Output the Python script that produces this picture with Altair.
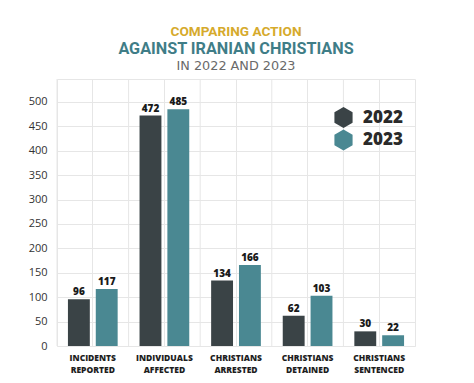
import altair as alt
import pandas as pd

categories = ["INCIDENTS REPORTED", "INDIVIDUALS AFFECTED", "CHRISTIANS ARRESTED",
              "CHRISTIANS DETAINED", "CHRISTIANS SENTENCED"]
years = ["2022", "2023"]
values_2022 = [96, 472, 134, 62, 30]
values_2023 = [117, 485, 166, 103, 22]
y_ticks = [0, 50, 100, 150, 200, 250, 300, 350, 400, 450, 500]

rows = []
for c, a, b in zip(categories, values_2022, values_2023):
    rows.append({"cat": c, "year": "2022", "value": a})
    rows.append({"cat": c, "year": "2023", "value": b})
df = pd.DataFrame(rows)
cat_df = pd.DataFrame({"cat": categories})

W, H = 358, 267
GRID = "#e6e6e6"
DARK = "#3a4346"
TEAL = "#4a8892"
HEX = "M0,-1L0.866,-0.5L0.866,0.5L0,1L-0.866,0.5L-0.866,-0.5Z"

x_axis = alt.Axis(title=None, labelExpr="split(datum.label, ' ')",
                  labelFont="Open Sans", labelFontWeight=800,
                  labelFontSize=8.5, labelColor="#1e1e1e",
                  labelLineHeight=12, labelPadding=7,
                  domain=False, ticks=False, grid=True,
                  gridColor=GRID, labelAngle=0, bandPosition=0.5)
x_enc = alt.X("cat:N", sort=categories,
              scale=alt.Scale(paddingInner=0, paddingOuter=0), axis=x_axis)
xoff = alt.XOffset("year:N", sort=years,
                   scale=alt.Scale(paddingInner=0.214, paddingOuter=0.393))
y_axis = alt.Axis(title=None, values=y_ticks, labelFont="Open Sans",
                  labelFontSize=11, labelColor="#333333", labelOverlap=False,
                  labelPadding=10, domain=False, ticks=False,
                  grid=True, gridColor=GRID)
y_enc = alt.Y("value:Q", scale=alt.Scale(domain=[0, 547], nice=False, zero=True),
              axis=y_axis)

bars = alt.Chart(df).mark_bar().encode(
    x=x_enc, xOffset=xoff, y=y_enc,
    color=alt.Color("year:N", sort=years,
                    scale=alt.Scale(domain=years, range=[DARK, TEAL]),
                    legend=alt.Legend(title=None, orient="none", legendX=276,
                                      legendY=28, symbolType=HEX, symbolSize=440,
                                      symbolStrokeWidth=0, symbolOpacity=1,
                                      labelFont="Open Sans", labelFontSize=17,
                                      labelFontWeight=800, labelColor="#2a2a2a",
                                      labelOffset=9, rowPadding=1.5, padding=0)))

edges = alt.Chart(cat_df).mark_rule(color=GRID, strokeWidth=1).encode(
    x=alt.X("cat:N", sort=categories, bandPosition=0,
            scale=alt.Scale(paddingInner=0, paddingOuter=0), axis=x_axis),
    y=alt.value(0), y2=alt.value(H))

labels = alt.Chart(df).mark_text(dy=-7, font="Open Sans", fontWeight=800,
                                 fontSize=10, color="#1a1a1a").encode(
    x=x_enc, xOffset=xoff, y=y_enc, text="value:Q")

one = pd.DataFrame({"a": [0]})
t1 = alt.Chart(one).mark_text(text="COMPARING ACTION", font="Roboto",
                              fontWeight="bold", fontSize=13.6, color="#d6aa2c",
                              align="center", baseline="middle").encode(
    x=alt.value(179), y=alt.value(-47))
t2 = alt.Chart(one).mark_text(text="AGAINST IRANIAN CHRISTIANS", font="Roboto",
                              fontWeight="bold", fontSize=16.2, color="#3f7d87",
                              align="center", baseline="middle").encode(
    x=alt.value(179), y=alt.value(-30))
t3 = alt.Chart(one).mark_text(text="IN 2022 AND 2023", font="DejaVu Sans",
                              fontSize=12.8, color="#6a6a6a",
                              align="center", baseline="middle").encode(
    x=alt.value(179), y=alt.value(-13))

chart = alt.layer(bars, edges, labels, t1, t2, t3).properties(
    width=W, height=H,
    autosize=alt.AutoSizeParams(type="none"),
    padding={"left": 49, "top": 71, "right": 51, "bottom": 29},
    background="white",
).configure_view(stroke=GRID, strokeWidth=1)

chart.save("out.html", embed_options={"renderer": "svg", "actions": False})
